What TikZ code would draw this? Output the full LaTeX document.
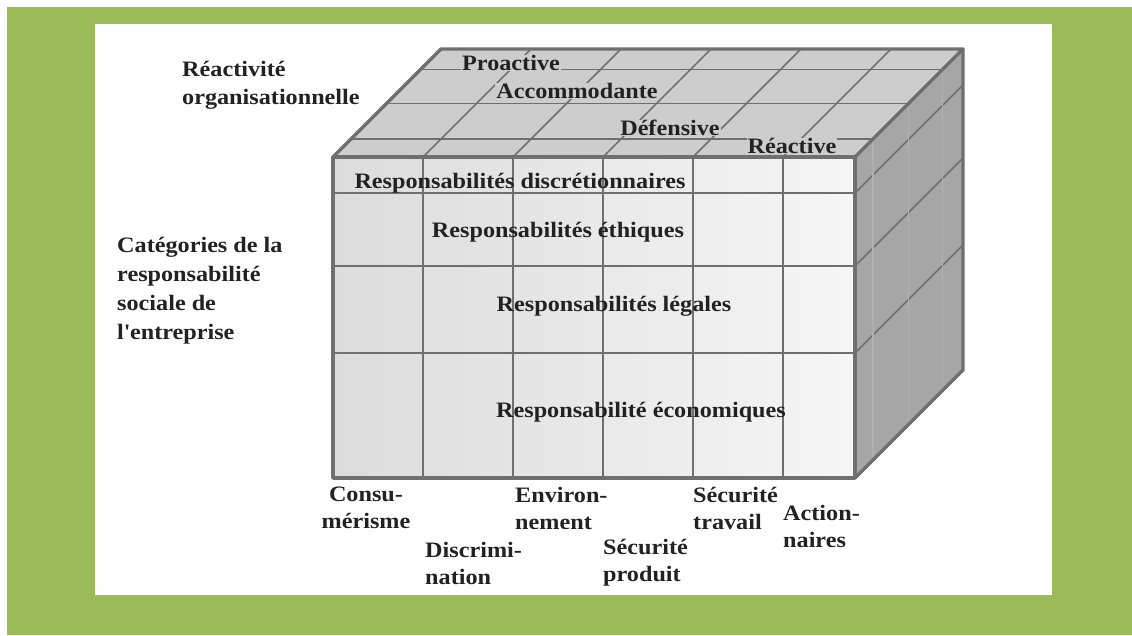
\documentclass[tikz,border=0pt]{standalone}
\usepackage{fontspec}
\setmainfont{Liberation Serif}[FakeStretch=1.1]
\usepackage{tikz}
\usetikzlibrary{positioning}

\definecolor{framegreen}{HTML}{9BBB59}
\definecolor{edgegray}{HTML}{6F6F6F}
\definecolor{topgray}{HTML}{CDCDCD}
\definecolor{sidegray}{HTML}{A6A6A6}
\definecolor{frontleft}{HTML}{DCDCDC}
\definecolor{frontright}{HTML}{F6F6F6}
\definecolor{txtcol}{HTML}{222222}

\begin{document}
\begin{tikzpicture}[x=1pt,y=-1pt,
  lbl/.style={font=\bfseries\fontsize{22}{28}\selectfont,inner sep=0pt,text=txtcol},
  toplbl/.style={lbl,fill=topgray,inner xsep=1pt},
  multilbl/.style={lbl,align=left,anchor=west},
  gridline/.style={draw=edgegray,line width=1.6pt},
  rowline/.style={draw=edgegray,line width=2.6pt},
  rim/.style={draw=edgegray,line width=3.4pt,line join=round}]
\useasboundingbox (0,0) rectangle (1132,635);
\fill[white] (0,0) rectangle (1132,635);
\fill[framegreen] (7,7) rectangle (1132,635);
\fill[white] (95,24) rectangle (1052,595);

\coordinate (fa) at (333,157);
\coordinate (fb) at (855,157);
\coordinate (fc) at (855,478);
\coordinate (fd) at (333,478);
\coordinate (ba) at (441,49);
\coordinate (bb) at (963,49);
\coordinate (bc) at (963,370);

\shade[left color=frontleft,right color=frontright] (fa) rectangle (fc);
\fill[topgray] (fa) -- (fb) -- (bb) -- (ba) -- cycle;
\fill[sidegray] (fb) -- (bb) -- (bc) -- (fc) -- cycle;

\foreach \x in {423,513,603,693,783} {
  \draw[gridline] (\x,157) -- (\x,478);
  \draw[gridline] (\x,157) -- ++(108,-108);
}
\foreach \y in {193,266,353} {
  \draw[rowline] (333,\y) -- (855,\y);
  \draw[gridline] (855,\y) -- ++(108,-108);
}
\foreach \f in {0.165,0.495,0.81} {
  \draw[gridline] ({333+108*\f},{157-108*\f}) -- ({855+108*\f},{157-108*\f});
  \draw[gridline,draw=edgegray!55] ({855+108*\f},{157-108*\f}) -- ({855+108*\f},{478-108*\f});
}
\draw[rim] (fa) rectangle (fc);
\draw[rim] (fa) -- (ba) -- (bb) -- (fb);
\draw[rim] (bb) -- (bc) -- (fc);

\node[toplbl] (proactive) at (511,63) {Proactive};
\node[toplbl] (accommodante) at (577,91) {Accommodante};
\node[toplbl] (defensive) at (670,128) {Défensive};
\node[toplbl] (reactive) at (792,146) {Réactive};

\node[lbl] (discretionnaires) at (520,183) {Responsabilités discrétionnaires};
\node[lbl] (ethiques) at (558,232) {Responsabilités éthiques};
\node[lbl] (legales) at (614,306) {Responsabilités légales};
\node[lbl] (economiques) at (641,412) {Responsabilité économiques};

\node[multilbl] (reactivite) at (182,85) {Réactivité\\organisationnelle};
\node[multilbl,font=\bfseries\fontsize{22}{29}\selectfont] (categories) at (117,291)
  {Catégories de la\\responsabilité\\sociale de\\l\textquotesingle entreprise};

\node[lbl,align=center,font=\bfseries\fontsize{22}{27}\selectfont] (consumerisme) at (366,508) {Consu-\\mérisme};
\node[multilbl,font=\bfseries\fontsize{22}{27}\selectfont] (discrimination) at (425,563) {Discrimi-\\nation};
\node[multilbl,font=\bfseries\fontsize{22}{27}\selectfont] (environnement) at (515,508) {Environ-\\nement};
\node[multilbl,font=\bfseries\fontsize{22}{27}\selectfont] (securiteproduit) at (603,563) {Sécurité\\produit};
\node[multilbl,font=\bfseries\fontsize{22}{27}\selectfont] (securitetravail) at (693,508) {Sécurité\\travail};
\node[multilbl,font=\bfseries\fontsize{22}{27}\selectfont] (actionnaires) at (783,526) {Action-\\naires};
\end{tikzpicture}
\end{document}
